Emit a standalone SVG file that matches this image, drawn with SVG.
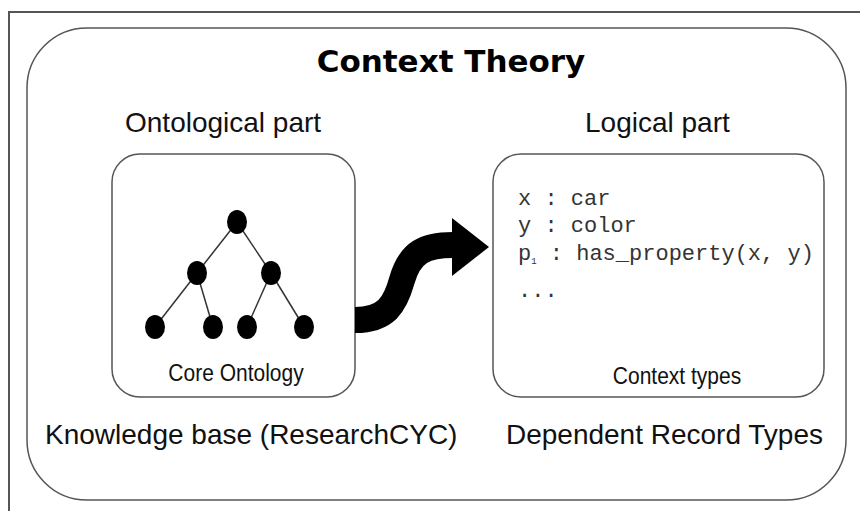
<svg xmlns="http://www.w3.org/2000/svg" width="860" height="511" viewBox="0 0 860 511">
<style>
.box{fill:none;stroke:#555;stroke-width:1.5}
.lbl{font-family:"Liberation Sans",Arial,sans-serif;fill:#111}
.title{font-family:"DejaVu Sans",Verdana,sans-serif;font-weight:bold;font-size:31px;fill:#000}
.mono{font-family:"Liberation Mono","Courier New",monospace;font-size:22px;fill:#333}
.edge{stroke:#333;stroke-width:1.5}
.dot{fill:#000}
</style>
<rect width="860" height="511" fill="#fff"/>
<rect x="9" y="12" width="870" height="520" fill="none" stroke="#555" stroke-width="2"/>
<g id="context-theory">
<rect class="box" x="27" y="28" width="819" height="472" rx="60" ry="60"/>
<text class="title" x="451" y="72" text-anchor="middle">Context Theory</text>
<text class="lbl" x="125" y="132" font-size="28">Ontological part</text>
<text class="lbl" x="585" y="132" font-size="28">Logical part</text>
<text class="lbl" x="45" y="444" font-size="28">Knowledge base (ResearchCYC)</text>
<text class="lbl" x="823" y="444" font-size="28" text-anchor="end">Dependent Record Types</text>
</g>
<g id="core-ontology">
<rect class="box" x="112" y="154" width="243" height="243" rx="28" ry="28"/>
<line class="edge" x1="237" y1="222" x2="197" y2="273"/>
<line class="edge" x1="237" y1="222" x2="271" y2="273"/>
<line class="edge" x1="197" y1="273" x2="155" y2="327"/>
<line class="edge" x1="197" y1="273" x2="213" y2="327"/>
<line class="edge" x1="271" y1="273" x2="247" y2="327"/>
<line class="edge" x1="271" y1="273" x2="304" y2="327"/>
<ellipse class="dot" cx="237" cy="222" rx="10" ry="12"/>
<ellipse class="dot" cx="197" cy="273" rx="10" ry="12"/>
<ellipse class="dot" cx="271" cy="273" rx="10" ry="12"/>
<ellipse class="dot" cx="155" cy="327" rx="10" ry="12"/>
<ellipse class="dot" cx="213" cy="327" rx="10" ry="12"/>
<ellipse class="dot" cx="247" cy="327" rx="10" ry="12"/>
<ellipse class="dot" cx="304" cy="327" rx="10" ry="12"/>
<text class="lbl" transform="translate(236,381) scale(1,1.12)" font-size="21" text-anchor="middle">Core Ontology</text>
</g>
<g id="context-types">
<rect class="box" x="493" y="154" width="331" height="243" rx="28" ry="28"/>
<text class="mono" x="518" y="205">x : car</text>
<text class="mono" x="518" y="232">y : color</text>
<text class="mono" x="518" y="260">p<tspan font-size="9" dy="4">1</tspan><tspan dy="-4"> : has_property(x, y)</tspan></text>
<text class="mono" x="518" y="297">...</text>
<text class="lbl" transform="translate(677,384) scale(1,1.12)" font-size="21" text-anchor="middle">Context types</text>
</g>
<g id="connectors">
<path d="M355,320 C386,320 395,305 402,280 C410,252 425,245 453,245" fill="none" stroke="#000" stroke-width="26"/>
<polygon points="452,218 489,247 452,276" fill="#000"/>
</g>
</svg>
